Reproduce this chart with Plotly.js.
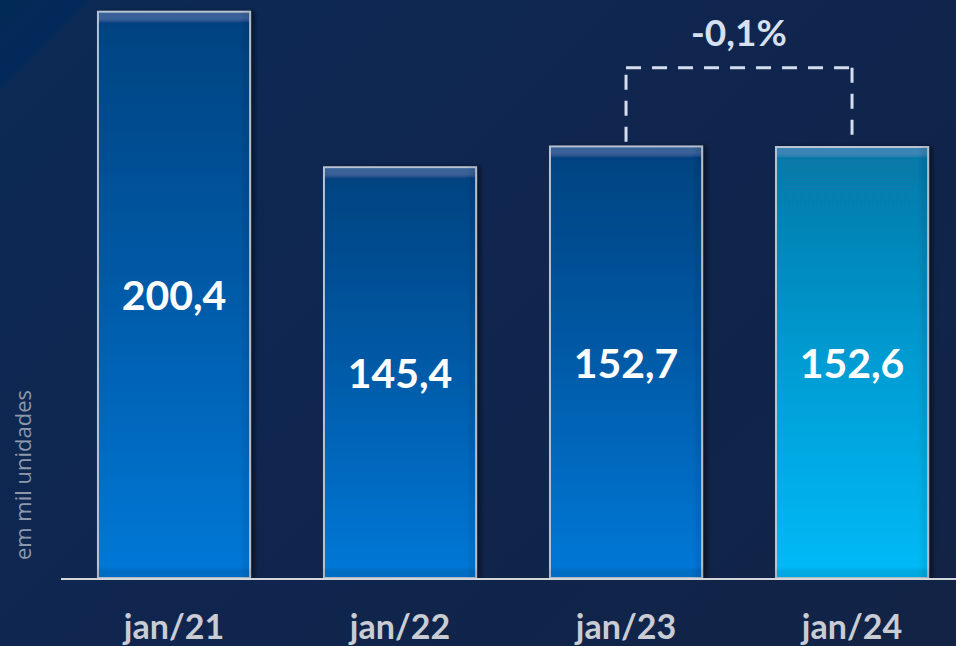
<!DOCTYPE html>
<html>
<head>
<meta charset="utf-8">
<script src="https://cdn.plot.ly/plotly-3.0.1.min.js"></script>
<style>
  html, body { margin: 0; padding: 0; }
  body {
    width: 956px; height: 646px; overflow: hidden;
    background: linear-gradient(135deg, #022a56 0%, #03295a 5.4%, #0c2a54 5.8%, #0f2650 40%, #122345 100%);
  }
  #chart { width: 956px; height: 646px; }
</style>
</head>
<body>
<div id="chart"></div>
<script>
// Data
const categories = ['jan/21', 'jan/22', 'jan/23', 'jan/24'];
const values = [200.4, 145.4, 152.7, 152.6];
const valueLabels = ['200,4', '145,4', '152,7', '152,6'];
const changeLabel = '-0,1%';
const yTitle = 'em mil unidades';

// gradient ids per bar
const barGradients = ['gBlue', 'gBlue', 'gBlue', 'gCyan'];
const barFallback = ['#0560b0', '#0560b0', '#0560b0', '#049cd6'];

const pairTop = Math.max(values[2], values[3]);
const bracketLow = pairTop + 1.7;
const bracketHigh = pairTop * 1.183;
const dashStyle = '15px,11px';
const bracketColor = '#d3ddee';

const trace = {
  type: 'bar',
  x: categories,
  y: values,
  text: valueLabels,
  textposition: 'inside',
  insidetextanchor: 'middle',
  constraintext: 'none',
  textangle: 0,
  textfont: { family: 'Lato, "Open Sans", sans-serif', size: 41, color: '#ffffff', weight: 'bold' },
  width: 0.673,
  marker: {
    color: barFallback,
    line: { color: 'rgba(196,202,212,0.95)', width: 2 }
  },
  hoverinfo: 'none'
};

const layout = {
  width: 956, height: 646,
  margin: { l: 61, r: 0, t: 0, b: 68 },
  paper_bgcolor: 'rgba(0,0,0,0)',
  plot_bgcolor: 'rgba(0,0,0,0)',
  showlegend: false,
  xaxis: {
    type: 'category',
    range: [-0.5, 3.46],
    showline: true, linecolor: '#d4d6da', linewidth: 2,
    showgrid: false, zeroline: false, ticks: '',
    ticklabelstandoff: 18,
    tickfont: { family: 'Lato, "Open Sans", sans-serif', size: 34, color: '#c9ccd3', weight: 'bold' },
    fixedrange: true
  },
  yaxis: {
    range: [0, 204.6],
    visible: false,
    fixedrange: true
  },
  shapes: [
    { type: 'line', xref: 'x', yref: 'y', x0: 2, x1: 2, y0: bracketLow, y1: bracketHigh,
      line: { color: bracketColor, width: 3, dash: dashStyle } },
    { type: 'line', xref: 'x', yref: 'y', x0: 2, x1: 3, y0: bracketHigh, y1: bracketHigh,
      line: { color: bracketColor, width: 3, dash: dashStyle } },
    { type: 'line', xref: 'x', yref: 'y', x0: 3, x1: 3, y0: bracketHigh, y1: bracketLow,
      line: { color: bracketColor, width: 3, dash: dashStyle } }
  ],
  annotations: [
    { x: 2.5, y: 193.5, xref: 'x', yref: 'y', text: changeLabel, showarrow: false,
      xanchor: 'center', yanchor: 'middle',
      font: { family: 'Lato, "Open Sans", sans-serif', size: 37, color: '#d6e0f0', weight: 'bold' } },
    { x: 0, y: 0.178, xref: 'paper', yref: 'paper', xshift: -39, text: yTitle, showarrow: false,
      xanchor: 'center', yanchor: 'middle',
      textangle: -90,
      font: { family: '"Open Sans", sans-serif', size: 22, color: '#8e98ab' } }
  ]
};

Plotly.newPlot('chart', [trace], layout, { staticPlot: true, displayModeBar: false }).then(function (gd) {
  const svgNS = 'http://www.w3.org/2000/svg';
  const svg = gd.querySelector('.main-svg');
  let defs = svg.querySelector('defs');
  if (!defs) { defs = document.createElementNS(svgNS, 'defs'); svg.insertBefore(defs, svg.firstChild); }
  function addGrad(id, stops) {
    const g = document.createElementNS(svgNS, 'linearGradient');
    g.setAttribute('id', id);
    g.setAttribute('x1', '0'); g.setAttribute('y1', '0');
    g.setAttribute('x2', '0'); g.setAttribute('y2', '1');
    stops.forEach(function (s) {
      const st = document.createElementNS(svgNS, 'stop');
      st.setAttribute('offset', s[0]);
      st.setAttribute('stop-color', s[1]);
      g.appendChild(st);
    });
    defs.appendChild(g);
  }
  addGrad('gBlue', [['0', '#04427f'], ['0.5', '#055ba8'], ['1', '#0679d8']]);
  addGrad('gCyan', [['0', '#0777a6'], ['0.5', '#049cd3'], ['1', '#00bbf8']]);

  // bevel + shadow filter
  const f = document.createElementNS(svgNS, 'filter');
  f.setAttribute('id', 'bevel');
  f.setAttribute('x', '-10%'); f.setAttribute('y', '-5%');
  f.setAttribute('width', '125%'); f.setAttribute('height', '110%');
  f.innerHTML =
    '<feOffset in="SourceAlpha" dx="4" dy="0" result="sOff"/>' +
    '<feGaussianBlur in="sOff" stdDeviation="2" result="sBlur"/>' +
    '<feFlood flood-color="#000000" flood-opacity="0.45" result="sCol"/>' +
    '<feComposite in="sCol" in2="sBlur" operator="in" result="shadow"/>' +
    '<feOffset in="SourceAlpha" dy="10" result="offDown"/>' +
    '<feComposite in="SourceAlpha" in2="offDown" operator="out" result="topBand0"/>' +
    '<feGaussianBlur in="topBand0" stdDeviation="1.5" result="topBand1"/>' +
    '<feComposite in="topBand1" in2="SourceAlpha" operator="in" result="topBand"/>' +
    '<feFlood flood-color="#9cc8ff" flood-opacity="0.13"/>' +
    '<feComposite in2="topBand" operator="in" result="topHL"/>' +
    '<feOffset in="SourceAlpha" dy="-10" result="offUp"/>' +
    '<feComposite in="SourceAlpha" in2="offUp" operator="out" result="botBand0"/>' +
    '<feGaussianBlur in="botBand0" stdDeviation="1.5" result="botBand1"/>' +
    '<feComposite in="botBand1" in2="SourceAlpha" operator="in" result="botBand"/>' +
    '<feFlood flood-color="#001030" flood-opacity="0.2"/>' +
    '<feComposite in2="botBand" operator="in" result="botSH"/>' +
    '<feOffset in="SourceAlpha" dx="-8" result="offL"/>' +
    '<feComposite in="SourceAlpha" in2="offL" operator="out" result="rBand0"/>' +
    '<feGaussianBlur in="rBand0" stdDeviation="1.5" result="rBand1"/>' +
    '<feComposite in="rBand1" in2="SourceAlpha" operator="in" result="rBand"/>' +
    '<feFlood flood-color="#000000" flood-opacity="0.15"/>' +
    '<feComposite in2="rBand" operator="in" result="rSH"/>' +
    '<feMerge><feMergeNode in="shadow"/><feMergeNode in="SourceGraphic"/>' +
    '<feMergeNode in="topHL"/><feMergeNode in="botSH"/><feMergeNode in="rSH"/></feMerge>';
  defs.appendChild(f);

  const paths = gd.querySelectorAll('.trace.bars .point path');
  paths.forEach(function (p, i) {
    p.style.fill = 'url(#' + barGradients[i] + ')';
    p.setAttribute('filter', 'url(#bevel)');
  });
});
</script>
</body>
</html>
